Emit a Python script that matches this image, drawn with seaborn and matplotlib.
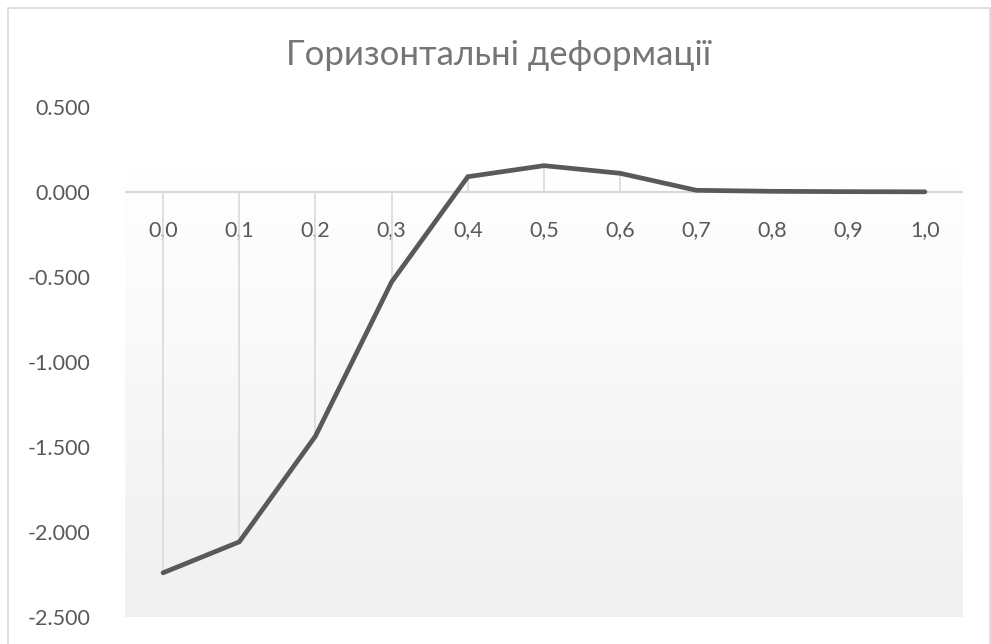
import numpy as np
import pandas as pd
import matplotlib
matplotlib.use("Agg")
import matplotlib.pyplot as plt
from matplotlib.patches import Rectangle
import seaborn as sns

# Relative distance along the profile and horizontal strain values
categories = ["0,0", "0,1", "0,2", "0,3", "0,4", "0,5", "0,6", "0,7", "0,8", "0,9", "1,0"]
strain = [-2.240, -2.058, -1.436, -0.529, 0.090, 0.155, 0.110, 0.010, 0.004, 0.002, 0.001]
y_ticks = [0.5, 0.0, -0.5, -1.0, -1.5, -2.0, -2.5]
title = "Горизонтальні деформації"

df = pd.DataFrame({"pos": np.arange(len(categories)), "strain": strain})

sns.set_theme(style="white")
plt.rcParams["font.family"] = ["Lato", "DejaVu Sans"]

text_color = "#595959"
grid_color = "#d9d9d9"

fig = plt.figure(figsize=(9.91, 6.44), dpi=100)
ax = fig.add_axes([125 / 991, 1 - 617 / 644, 838 / 991, 510 / 644])

# Plot-area fill: soft vertical gradient from white to light grey
grad = np.linspace(1.0, 0.0, 256).reshape(-1, 1)
top_c = np.array([1.0, 1.0, 1.0])
bot_c = np.array([0xf0, 0xf0, 0xf0]) / 255
img = grad[..., None] * top_c + (1 - grad[..., None]) * bot_c
ax.imshow(img, extent=(-0.5, len(categories) - 0.5, -2.5, max(strain) - 0.01),
          aspect="auto", origin="upper", zorder=0)

# Drop lines from each point to the category axis
ax.vlines(df["pos"], 0, df["strain"], color=grid_color, linewidth=1.2, zorder=1)
ax.axhline(0, color=grid_color, linewidth=1.6, zorder=1)

sns.lineplot(data=df, x="pos", y="strain", ax=ax, color=text_color,
             linewidth=3.4, zorder=3, solid_capstyle="round",
             solid_joinstyle="miter")

ax.set_xlim(-0.5, len(categories) - 0.5)
ax.set_ylim(-2.5, 0.5)
ax.set_yticks(y_ticks)
ax.set_yticklabels([f"{v:.3f}" for v in y_ticks])
ax.set_xticks(df["pos"])
ax.set_xticklabels(categories)
ax.set_xlabel("")
ax.set_ylabel("")

for s in ax.spines.values():
    s.set_visible(False)
ax.spines["bottom"].set_position(("data", 0))

ax.tick_params(axis="y", length=0, pad=25, labelsize=15.5, labelcolor=text_color)
ax.tick_params(axis="x", length=0, pad=20, labelsize=15.5, labelcolor=text_color)
ax.patch.set_alpha(0)

fig.text(499 / 991, 1 - 55 / 644, title, ha="center", va="center",
         fontsize=25, color="#757575", fontweight="normal")

# Chart frame
fig.patches.append(Rectangle((8 / 991, -0.05), 982 / 991, 1 - 8 / 644 + 0.05,
                             transform=fig.transFigure, fill=False,
                             edgecolor=grid_color, linewidth=1.2))

fig.savefig("out.png", dpi=100)
